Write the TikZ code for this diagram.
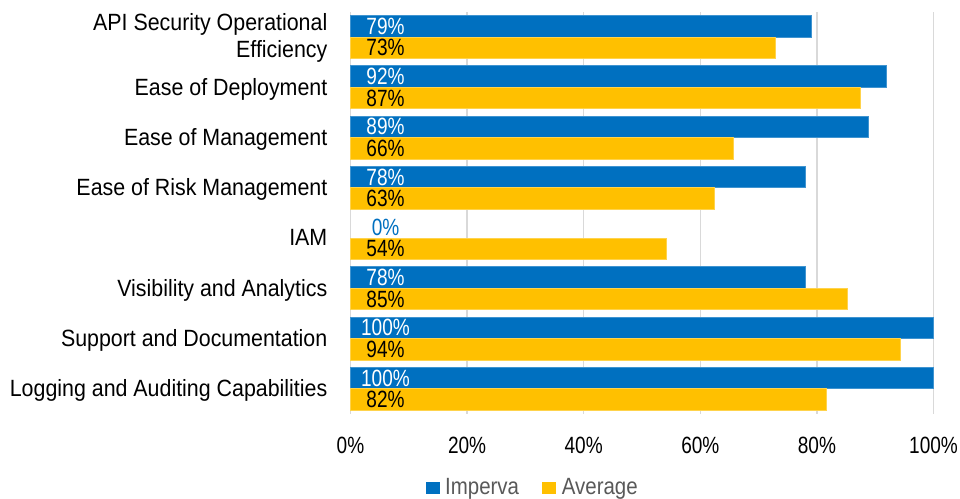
\documentclass[tikz,border=0pt]{standalone}
\usepackage{fontspec}
\setmainfont{Liberation Sans}[FakeStretch=0.91]
\newfontfamily\numfont{Liberation Sans}[FakeStretch=0.81]
\newfontfamily\legfont{Liberation Sans}[FakeStretch=0.87]
\definecolor{impblue}{HTML}{0070C0}
\definecolor{avgyel}{HTML}{FFC000}
\definecolor{gridgray}{HTML}{D9D9D9}
\definecolor{legtext}{HTML}{595959}
\tikzset{
  gridline/.style={draw=gridgray,line width=1.5pt},
  bluebar/.style={fill=impblue,draw=impblue!75!white,line width=0.8pt},
  yelbar/.style={fill=avgyel,draw=avgyel!70!white,line width=0.8pt},
  catlabel/.style={anchor=base east,inner sep=0pt,text=black},
  vallabel/.style={anchor=base,inner sep=0pt,font=\fontsize{23.5}{27}\numfont},
  ticklabel/.style={anchor=base,inner sep=0pt,text=black,font=\fontsize{23.5}{27}\numfont},
  legtextstyle/.style={anchor=base west,inner sep=0pt,text=legtext,font=\fontsize{23.5}{27}\legfont},
}
\begin{document}
\begin{tikzpicture}[x=1pt,y=-1pt,font=\fontsize{23.5}{27}\selectfont]
\useasboundingbox (0,0) rectangle (960,498);
\fill[white] (0,0) rectangle (960,498);
% gridlines and tick labels
\foreach \p in {0,20,40,60,80,100}{
  \draw[gridline] ({350.5+5.83*\p},12) -- ({350.5+5.83*\p},414);
  \node[ticklabel] (tick\p) at ({350.5+5.83*\p},453) {\p\%};
}
% bars
\foreach \i/\b/\bl/\a/\al in {0/79.0/79/72.9/73, 1/92.0/92/87.4/87, 2/88.9/89/65.6/66, 3/78.0/78/62.5/63, 4/0/0/54.1/54, 5/78.0/78/85.3/85, 6/100/100/94.4/94, 7/100/100/81.7/82}{
  \pgfmathsetmacro{\yc}{12+50.25*(\i+0.5)}
  \ifdim \b pt>0pt
    \path[bluebar] (350.5,{\yc-21.5}) rectangle ({350.5+5.83*\b},\yc);
    \node[vallabel,text=white] (vb\i) at (385.5,{\yc-10.75+8}) {\bl\%};
  \else
    \node[vallabel,text=impblue] (vb\i) at (385.5,{\yc-10.75+8}) {\bl\%};
  \fi
  \path[yelbar] (350.5,\yc) rectangle ({350.5+5.83*\a},{\yc+21.5});
  \node[vallabel,text=black] (va\i) at (385.5,{\yc+10.75+8}) {\al\%};
}
% category labels
\node[catlabel] (cat0a) at (327.5,30) {API Security Operational};
\node[catlabel] (cat0b) at (327.5,57) {Efficiency};
\foreach \i/\t in {1/Ease of Deployment, 2/Ease of Management, 3/Ease of Risk Management, 4/IAM, 5/Visibility and Analytics, 6/Support and Documentation, 7/Logging and Auditing Capabilities}{
  \node[catlabel] (cat\i) at (327.5,{12+50.25*(\i+0.5)+7.8}) {\t};
}
% legend
\fill[impblue] (426,481.7) rectangle (440,494);
\node[legtextstyle] (legimp) at (445,494) {Imperva};
\fill[avgyel] (542.3,481.7) rectangle (556,494);
\node[legtextstyle] (legavg) at (561.7,494) {Average};
\end{tikzpicture}
\end{document}
